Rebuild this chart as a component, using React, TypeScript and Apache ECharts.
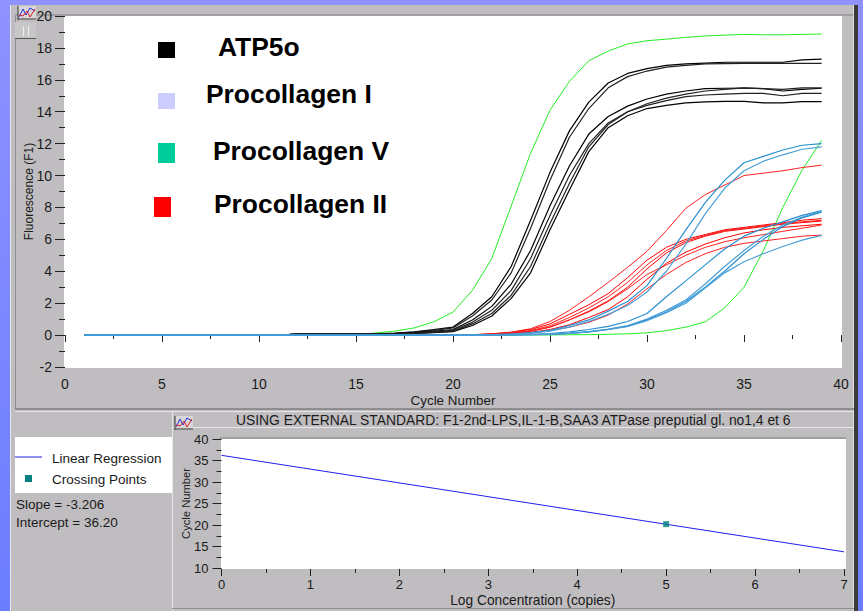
import React, { useEffect, useRef } from "react";
import * as echarts from "echarts";

const cycles = [1,2,3,4,5,6,7,8,9,10,11,12,13,14,15,16,17,18,19,20,21,22,23,24,25,26,27,28,29,30,31,32,33,34,35,36,37,38,39];

const green1 = [0,0,0,0,0,0,0,0,0,0,0,0,0,0,0.03,0.13,0.25,0.45,0.83,1.44,2.8,4.8,8.1,11.4,14.1,15.9,17.2,17.8,18.25,18.45,18.55,18.66,18.75,18.8,18.85,18.82,18.82,18.85,18.87];
const green2 = [0,0,0,0,0,0,0,0,0,0,0,0,0,0,0,0,0,0,0,0,0,0,0,0.01,0.01,0.02,0.03,0.05,0.08,0.14,0.28,0.5,0.83,1.7,3,5.3,8,10.35,12.2];

const black1 = [0,0,0,0,0,0,0,0,0,0,0,0.07,0.07,0.07,0.07,0.08,0.12,0.2,0.34,0.5,1.35,2.4,4.3,7.2,10.2,12.8,14.6,15.8,16.4,16.7,16.9,17,17.05,17.1,17.1,17.1,17.1,17.25,17.3];
const black2 = [0,0,0,0,0,0,0,0,0,0,0,0.07,0.07,0.07,0.07,0.08,0.11,0.18,0.3,0.45,1.2,2.2,3.9,6.7,9.7,12.4,14.2,15.5,16.2,16.55,16.8,16.9,17,17.02,17.03,17.03,17.03,17.03,17.03];
const black3 = [0,0,0,0,0,0,0,0,0,0,0,0.07,0.07,0.07,0.07,0.07,0.09,0.15,0.24,0.35,0.95,1.8,3.2,5.3,8.1,10.6,12.6,13.7,14.35,14.8,15.1,15.3,15.45,15.47,15.48,15.45,15.3,15.4,15.47];
const black4 = [0,0,0,0,0,0,0,0,0,0,0,0.07,0.07,0.07,0.07,0.07,0.08,0.13,0.2,0.3,0.8,1.55,2.8,4.8,7.5,10,12,13.3,14,14.4,14.7,14.95,15.05,15.1,15.15,15.15,15,15.15,15.15];
const black5 = [0,0,0,0,0,0,0,0,0,0,0,0.07,0.07,0.07,0.07,0.07,0.07,0.1,0.15,0.22,0.6,1.2,2.3,3.9,6.6,9.1,11.5,13,13.75,14.2,14.4,14.55,14.62,14.65,14.65,14.55,14.55,14.63,14.63];
const black6 = [0,0,0,0,0,0,0,0,0,0,0,0.07,0.07,0.07,0.07,0.07,0.07,0.11,0.17,0.25,0.7,1.35,2.5,4.3,7,9.5,11.8,13.2,14,14.5,14.85,15.1,15.3,15.4,15.5,15.45,15.4,15.5,15.5];

const red1 = [0,0,0,0,0,0,0,0,0,0,0,0,0,0,0,0,0,0,0,0,0.02,0.08,0.18,0.4,0.85,1.55,2.4,3.3,4.25,5.25,6.55,7.95,8.8,9.4,10,10.15,10.3,10.5,10.65];
const red2 = [0,0,0,0,0,0,0,0,0,0,0,0,0,0,0,0,0,0,0,0.01,0.03,0.08,0.18,0.35,0.7,1.3,1.9,2.6,3.6,4.7,5.5,6,6.3,6.6,6.75,6.9,7.05,7.2,7.3];
const red3 = [0,0,0,0,0,0,0,0,0,0,0,0,0,0,0,0,0,0,0,0.01,0.02,0.06,0.14,0.28,0.58,1.1,1.7,2.4,3.3,4.4,5.3,5.9,6.25,6.55,6.7,6.85,7,7.1,7.2];
const red4 = [0,0,0,0,0,0,0,0,0,0,0,0,0,0,0,0,0,0,0,0.01,0.02,0.05,0.11,0.24,0.5,0.95,1.5,2.15,3,4.15,5.15,5.8,6.2,6.5,6.65,6.8,6.95,7.05,7.15];
const red5 = [0,0,0,0,0,0,0,0,0,0,0,0,0,0,0,0,0,0,0,0.01,0.02,0.05,0.12,0.25,0.5,0.95,1.45,2.1,2.9,3.8,4.4,5,5.5,5.85,6.1,6.3,6.5,6.7,6.9];
const red6 = [0,0,0,0,0,0,0,0,0,0,0,0,0,0,0,0,0,0,0,0,0.01,0.03,0.07,0.14,0.28,0.5,0.8,1.25,1.95,2.9,3.8,4.55,5.1,5.5,5.75,5.9,6.05,6.2,6.27];
const red7 = [0,0,0,0,0,0,0,0,0,0,0,0,0,0,0,0,0,0,0,0,0.01,0.03,0.08,0.17,0.35,0.65,1.1,1.6,2.4,3.5,4.5,5.2,5.7,6.1,6.4,6.6,6.75,6.85,6.95];

const blue1 = [0,0,0,0,0,0,0,0,0,0,0,0,0,0,0,0,0,0,0,0,0.01,0.03,0.07,0.15,0.3,0.6,0.95,1.5,2.1,3.1,4.8,6.6,8.3,9.7,10.8,11.2,11.6,11.9,12];
const blue2 = [0,0,0,0,0,0,0,0,0,0,0,0,0,0,0,0,0,0,0,0,0.01,0.02,0.06,0.12,0.25,0.5,0.85,1.3,1.85,2.7,4,5.7,7.6,9.2,10.3,10.9,11.3,11.65,11.8];
const blue3 = [0,0,0,0,0,0,0,0,0,0,0,0,0,0,0,0,0,0,0,0,0,0.01,0.02,0.05,0.1,0.2,0.35,0.55,0.85,1.35,2.4,3.4,4.4,5.4,6.2,6.7,7.1,7.5,7.8];
const blue4 = [0,0,0,0,0,0,0,0,0,0,0,0,0,0,0,0,0,0,0,0,0,0.01,0.02,0.03,0.06,0.12,0.22,0.38,0.6,1,1.55,2.2,3.2,4.3,5.3,6.2,6.9,7.4,7.75];
const blue5 = [0,0,0,0,0,0,0,0,0,0,0,0,0,0,0,0,0,0,0,0,0,0.01,0.01,0.03,0.05,0.1,0.2,0.35,0.55,0.95,1.45,2.1,3,4,5.1,6,6.8,7.35,7.7];
const blue6 = [0,0,0,0,0,0,0,0,0,0,0,0,0,0,0,0,0,0,0,0,0,0.01,0.01,0.03,0.05,0.1,0.2,0.35,0.55,0.9,1.4,2,2.95,3.9,4.6,5.1,5.55,5.95,6.25];

const regressionX = [0, 7];
const regressionY = [36.2, 13.76];
const crossingX = [5];
const crossingY = [20.2];

const legendLabels = ["ATP5o", "Procollagen I", "Procollagen V", "Procollagen II"];
const legendColors = ["#000000", "#ccccff", "#00cc99", "#ff0000"];
const plotTitle = "USING EXTERNAL STANDARD: F1-2nd-LPS,IL-1-B,SAA3 ATPase preputial gl. no1,4 et 6";

const FONT = "'Liberation Sans', Arial, sans-serif";
const GRAY = "#c0bdc0";
const DARK = "#8f8d8f";

const rect = (x: number, y: number, w: number, h: number, fill: any, z = -10) => ({
  type: "rect", z, silent: true, shape: { x, y, width: w, height: h }, style: { fill },
});
const txt = (x: number, y: number, text: string, size: number, weight = "normal", fill = "#1a1a1a") => ({
  type: "text", z: 5, silent: true, x, y,
  style: { text, fill, font: `${weight} ${size}px ${FONT}`, textVerticalAlign: "middle", textBaseline: "middle" },
});
const icon = (x: number, y: number) => ([
  rect(x, y, 18, 14, "#d8d6d8", 3),
  { type: "polyline", z: 4, silent: true, shape: { points: [[x + 1, y + 11], [x + 5, y + 3], [x + 8, y + 9], [x + 12, y + 2], [x + 17, y + 5]] }, style: { stroke: "#2030e0", fill: "none", lineWidth: 1 } },
  { type: "polyline", z: 4, silent: true, shape: { points: [[x + 1, y + 9], [x + 5, y + 10], [x + 9, y + 5], [x + 12, y + 11], [x + 17, y + 3]] }, style: { stroke: "#e02020", fill: "none", lineWidth: 1 } },
  { type: "line", z: 4, silent: true, shape: { x1: x, y1: y + 13, x2: x + 18, y2: y + 13 }, style: { stroke: "#333", lineWidth: 1 } },
  { type: "line", z: 4, silent: true, shape: { x1: x, y1: y, x2: x, y2: y + 14 }, style: { stroke: "#333", lineWidth: 1 } },
]);

const curve = (values: number[], color: string, name: string, width = 1) => ({
  type: "line", name, xAxisIndex: 0, yAxisIndex: 0, symbol: "none", smooth: false,
  lineStyle: { color, width }, data: cycles.map((c, i) => [c, values[i]]),
});

const axisText = { color: "#1a1a1a", fontFamily: FONT, fontSize: 14 };
const ticks = (length: number, minor: number) => ({
  axisLine: { show: false },
  axisTick: { show: true, length, lineStyle: { color: "#222", width: 1 } },
  minorTick: { show: true, splitNumber: 2, length: minor, lineStyle: { color: "#222", width: 1 } },
  splitLine: { show: false }, minorSplitLine: { show: false },
});

export default function App() {
  const ref = useRef<HTMLDivElement>(null);
  useEffect(() => {
    const chart = echarts.init(ref.current!, undefined, { renderer: "svg" });
    const blueFill = new echarts.graphic.LinearGradient(0, 0, 0, 1, [
      { offset: 0, color: "#8f92ff" }, { offset: 1, color: "#6b7dff" },
    ]);
    const swatchTop = [42, 93, 143, 197];
    const swatchHeight = [16, 16, 20, 20];
    const swatchX = [158, 158, 158, 154];
    const labelX = [218, 206, 213, 214];
    const labelY = [47, 94, 151, 204];
    chart.setOption({
      animation: false,
      backgroundColor: GRAY,
      textStyle: { fontFamily: FONT },
      graphic: { elements: [
        rect(0, 0, 10, 611, blueFill), rect(0, 0, 863, 5, "#8f92ff"), rect(858, 0, 5, 611, blueFill),
        rect(10, 5, 1, 606, "#e8e8f0"), rect(15, 14, 1, 394, DARK), rect(15, 14, 839, 2, "#a09ea0"),
        rect(854, 5, 4, 606, "#3a3a3a"), rect(853, 5, 1, 606, "#e0dee0"),
        rect(64, 16, 778, 352, "#ffffff"), rect(15, 408, 839, 2, DARK), rect(15, 411, 839, 1, "#e8e6e8"),
        rect(172, 412, 1, 199, "#e8e6e8"), rect(173, 427, 681, 1, "#e8e6e8"), rect(220, 437, 626, 2, "#a09ea0"),
        rect(221, 439, 625, 130, "#ffffff"), rect(15, 437, 157, 56, "#ffffff"), rect(172, 608, 682, 1, DARK),
        ...icon(18, 6), ...icon(175, 416),
        rect(15, 22, 21, 17, "#c8c6c8", 3), rect(15, 38, 21, 1, "#555555", 3),
        rect(23, 26, 1, 10, "#f0f0f0", 4), rect(28, 26, 1, 10, "#f0f0f0", 4),
        ...legendLabels.map((_, i) => rect(swatchX[i], swatchTop[i], 17, swatchHeight[i], legendColors[i], 5)),
        ...legendLabels.map((t, i) => txt(labelX[i], labelY[i], t, 26.4, "bold", "#000")),
        txt(236, 420, plotTitle, 13.85),
        { type: "line", z: 5, silent: true, shape: { x1: 15, y1: 457, x2: 42, y2: 457 }, style: { stroke: "#2020e0", lineWidth: 1 } },
        rect(25, 475, 7, 7, "#008080", 5),
        txt(52, 458, "Linear Regression", 13.5), txt(52, 479, "Crossing Points", 13.5),
        txt(16, 504, "Slope = -3.206", 13.5), txt(16, 522, "Intercept = 36.20", 13.5),
      ] },
      grid: [
        { left: 65, top: 16, width: 776, height: 351, outerBoundsMode: "none" },
        { left: 221.5, top: 439, width: 622.5, height: 129, outerBoundsMode: "none" },
      ],
      xAxis: [
        { type: "value", gridIndex: 0, min: 0, max: 40, interval: 5, offset: 2, ...ticks(7, 4), axisLabel: { ...axisText, margin: 8 },
          name: "Cycle Number", nameLocation: "middle", nameGap: 25, nameMoveOverlap: false, nameTextStyle: { ...axisText, fontSize: 13.4 } },
        { type: "value", gridIndex: 1, min: 0, max: 7, interval: 1, offset: 1, ...ticks(7, 4), axisLabel: { ...axisText, fontSize: 13, margin: 9 },
          name: "Log Concentration (copies)", nameLocation: "middle", nameGap: 24, nameMoveOverlap: false, nameTextStyle: { ...axisText, fontSize: 13.75 } },
      ],
      yAxis: [
        { type: "value", gridIndex: 0, min: -2, max: 20, interval: 2, offset: 1, ...ticks(10, 6), axisLabel: { ...axisText, margin: 12 },
          name: "Fluorescence (F1)", nameLocation: "middle", nameGap: 29, nameMoveOverlap: false, nameTextStyle: { ...axisText, fontSize: 12 } },
        { type: "value", gridIndex: 1, min: 10, max: 40, interval: 5, offset: 1, ...ticks(9, 5), axisLabel: { ...axisText, fontSize: 13, margin: 12 },
          name: "Cycle Number", nameLocation: "middle", nameGap: 29, nameMoveOverlap: false, nameTextStyle: { ...axisText, fontSize: 11.2 } },
      ],
      series: [
        curve(green1, "#22ee22", "Procollagen V 1"), curve(green2, "#22ee22", "Procollagen V 2"),
        curve(red1, "#ff2020", "Procollagen II 1"), curve(red2, "#ff0000", "Procollagen II 2"), curve(red3, "#ff2020", "Procollagen II 3"),
        curve(red4, "#ff0000", "Procollagen II 4"), curve(red5, "#ff2020", "Procollagen II 5"), curve(red6, "#ff2020", "Procollagen II 6"),
        curve(red7, "#ff0000", "Procollagen II 7"),
        curve(black1, "#000000", "ATP5o 1", 1.2), curve(black2, "#222222", "ATP5o 2", 1.2), curve(black3, "#000000", "ATP5o 3", 1.2),
        curve(black4, "#222222", "ATP5o 4", 1.2), curve(black5, "#000000", "ATP5o 5", 1.2), curve(black6, "#222222", "ATP5o 6", 1.2),
        curve(blue1, "#2a90d0", "Procollagen I 1", 1.2), curve(blue2, "#4aa0d8", "Procollagen I 2", 1.2), curve(blue3, "#2a90d0", "Procollagen I 3", 1.2),
        curve(blue4, "#4aa0d8", "Procollagen I 4", 1.2), curve(blue5, "#2a90d0", "Procollagen I 5", 1.2), curve(blue6, "#4aa0d8", "Procollagen I 6", 1.2),
        { type: "line", name: "Linear Regression", xAxisIndex: 1, yAxisIndex: 1, symbol: "none", z: 3,
          lineStyle: { color: "#2020f0", width: 1 }, data: regressionX.map((x, i) => [x, regressionY[i]]) },
        { type: "scatter", name: "Crossing Points", xAxisIndex: 1, yAxisIndex: 1, symbol: "rect", symbolSize: 6, z: 6,
          itemStyle: { color: "#008080" }, data: crossingX.map((x, i) => [x, crossingY[i]]) },
      ],
    });
    return () => chart.dispose();
  }, []);
  return (
    <>
      <style>{"html,body{margin:0;padding:0;overflow:hidden}"}</style>
      <div ref={ref} style={{ width: 863, height: 611 }} />
    </>
  );
}
